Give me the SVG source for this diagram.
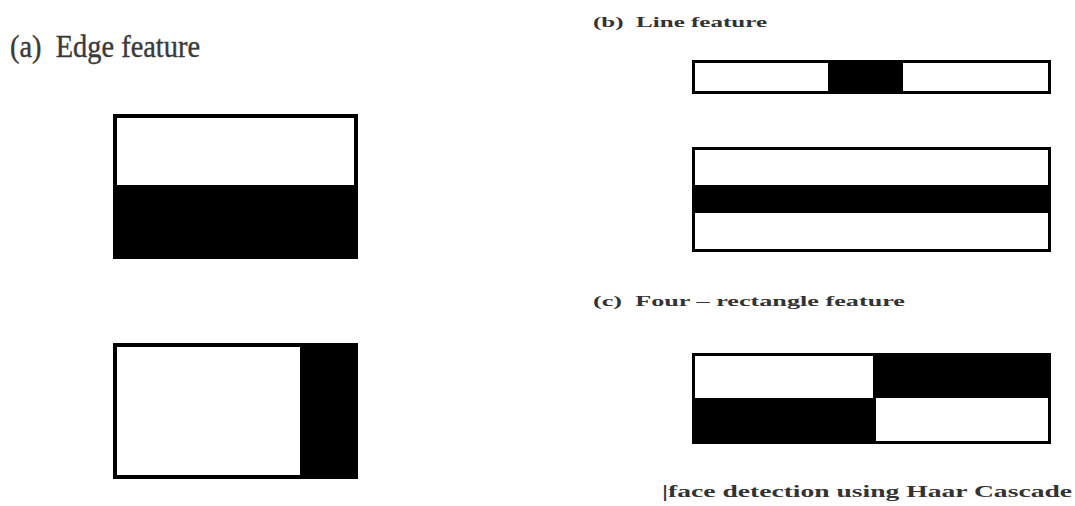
<svg xmlns="http://www.w3.org/2000/svg" width="1075" height="506" viewBox="0 0 1075 506">
<style>
.frame{fill:none;stroke:#000;stroke-width:4}
.thin{fill:none;stroke:#000;stroke-width:3}
.blk{fill:#000}
.lbl{font-family:"Liberation Serif",serif;fill:#3a3a3a}
.b{font-weight:bold;fill:#333}
</style>
<rect width="1075" height="506" fill="#fff"/>
<text class="lbl" x="10" y="57" font-size="31" textLength="190" lengthAdjust="spacingAndGlyphs" stroke="#3a3a3a" stroke-width="0.4" xml:space="preserve">(a)  Edge feature</text>
<text class="lbl b" x="593" y="27" font-size="15" textLength="174" lengthAdjust="spacingAndGlyphs" xml:space="preserve">(b)  Line feature</text>
<text class="lbl b" x="593" y="306" font-size="15" textLength="312" lengthAdjust="spacingAndGlyphs" xml:space="preserve">(c)  Four – rectangle feature</text>
<text class="lbl b" x="662" y="497" font-size="17" textLength="410" lengthAdjust="spacingAndGlyphs">|face detection using Haar Cascade</text>
<g id="edge1">
<rect class="blk" x="113" y="185" width="245" height="74"/>
<rect class="frame" x="115" y="116" width="241" height="141"/>
</g>
<g id="edge2">
<rect class="blk" x="300" y="343" width="58" height="136"/>
<rect class="frame" x="115" y="345" width="241" height="132"/>
</g>
<g id="line1">
<rect class="blk" x="828" y="60" width="75" height="34"/>
<rect class="thin" x="693.5" y="61.5" width="356" height="31"/>
</g>
<g id="line2">
<rect class="blk" x="692" y="185" width="359" height="28"/>
<rect class="thin" x="693.5" y="148.5" width="356" height="102"/>
</g>
<g id="four">
<rect class="blk" x="873" y="353" width="178" height="45"/>
<rect class="blk" x="692" y="398" width="184" height="46"/>
<rect class="thin" x="693.5" y="354.5" width="356" height="88"/>
</g>
<g id="connectors"/>
</svg>
